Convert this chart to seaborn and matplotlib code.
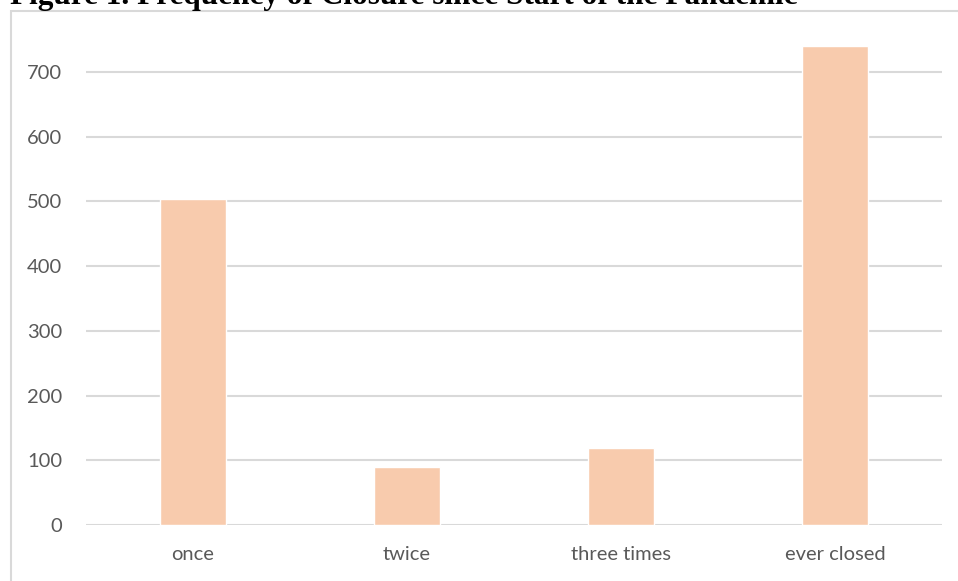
import matplotlib
matplotlib.use("Agg")
import matplotlib.pyplot as plt
from matplotlib.patches import Rectangle
import pandas as pd
import seaborn as sns

# Number of closures reported since the start of the pandemic
categories = ["once", "twice", "three times", "ever closed"]
counts = [503, 89, 119, 740]
y_ticks = [0, 100, 200, 300, 400, 500, 600, 700]

title = "Figure 1. Frequency of Closure since Start of the Pandemic"

bar_color = "#F8CBAD"
grid_color = "#D9D9D9"
label_color = "#595959"

sns.set_theme(style="white")
plt.rcParams["font.family"] = ["Lato", "DejaVu Sans"]

W, H = 958, 581
fig = plt.figure(figsize=(W / 100, H / 100), dpi=100)
fig.patch.set_facecolor("white")

# plot area in pixel terms: x 86..942, y 33..525 (from top)
ax = fig.add_axes([86 / W, (H - 525) / H, (942 - 86) / W, (525 - 33) / H])

df = pd.DataFrame({"category": categories, "count": counts})
sns.barplot(data=df, x="category", y="count", color=bar_color,
            width=0.313, saturation=1, ax=ax, zorder=3)

ax.set_xlim(-0.5, len(categories) - 0.5)
ax.set_ylim(0, 760)
ax.set_yticks(y_ticks)
ax.set_yticklabels([str(t) for t in y_ticks])
ax.set_xlabel("")
ax.set_ylabel("")

ax.yaxis.grid(True, color=grid_color, linewidth=1.5, zorder=0)
ax.xaxis.grid(False)
ax.set_axisbelow(True)
for side in ["top", "right", "left", "bottom"]:
    ax.spines[side].set_visible(False)

ax.tick_params(axis="y", length=0, pad=17, labelsize=14.5, labelcolor=label_color)
ax.tick_params(axis="x", length=0, pad=15, labelsize=14.5, labelcolor=label_color)

# chart border (left and top edges visible)
fig.add_artist(Rectangle((10.5 / W, -0.05), 1.1, (H - 11) / H + 0.05,
                         transform=fig.transFigure, fill=False,
                         edgecolor=grid_color, linewidth=1.5))

# caption above the chart, running off the top edge
fig.text(10 / W, 1 - 4 / H, title, ha="left", va="baseline",
         fontsize=22.5, fontweight="bold",
         family=["Liberation Serif", "DejaVu Serif"], color="black")

fig.savefig("out.png", dpi=100, facecolor="white")
